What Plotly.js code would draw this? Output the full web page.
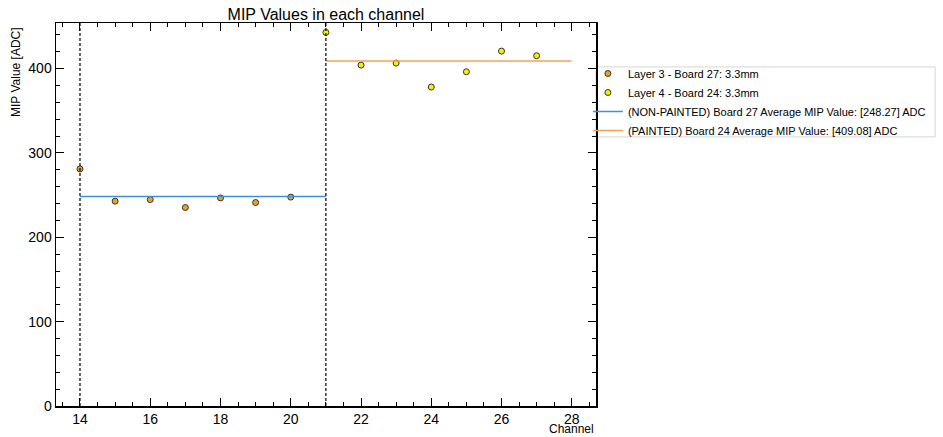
<!DOCTYPE html>
<html>
<head>
<meta charset="utf-8">
<script src="https://cdn.plot.ly/plotly-3.0.1.min.js"></script>
<style>html,body{margin:0;padding:0;background:#fff}#chart{width:943px;height:437px}</style>
</head>
<body>
<div id="chart"></div>
<script>
// Data
const channelsB27 = [14, 15, 16, 17, 18, 19, 20];
const mipB27 = [281.0, 242.8, 244.7, 235.3, 246.7, 241.2, 247.6];
const channelsB24 = [21, 22, 23, 24, 25, 26, 27];
const mipB24 = [442.8, 404.1, 406.5, 378.1, 396.2, 420.7, 415.2];
const avgB27 = 248.27;
const avgB24 = 409.08;
const avgSpanB27 = [14, 21];
const avgSpanB24 = [21, 28];
const dividers = [14, 21];
const seriesNames = [
  "Layer 3 - Board 27: 3.3mm",
  "Layer 4 - Board 24: 3.3mm",
  "(NON-PAINTED) Board 27 Average MIP Value: [248.27] ADC",
  "(PAINTED) Board 24 Average MIP Value: [409.08] ADC"
];

const FONT = "Liberation Sans, Arial, Helvetica, sans-serif";

const traces = [
  {
    x: channelsB27, y: mipB27, type: "scatter", mode: "markers", name: seriesNames[0],
    marker: {color: "#eba226", size: 6, line: {color: "#333", width: 1}}
  },
  {
    x: channelsB24, y: mipB24, type: "scatter", mode: "markers", name: seriesNames[1],
    marker: {color: "#f2f200", size: 6, line: {color: "#333", width: 1}}
  },
  {
    x: avgSpanB27, y: avgSpanB27.map(() => avgB27), type: "scatter", mode: "lines", name: seriesNames[2],
    line: {color: "#3f90da", width: 1.5}
  },
  {
    x: avgSpanB24, y: avgSpanB24.map(() => avgB24), type: "scatter", mode: "lines", name: seriesNames[3],
    line: {color: "#f7a055", width: 1.5}
  }
];

const shapes = dividers.map(d => ({
  type: "line", xref: "x", yref: "paper", x0: d, x1: d, y0: 0, y1: 1,
  line: {color: "#000", width: 1.2, dash: "3px,2px"}
}));
// legend frame
shapes.push({
  type: "rect", xref: "paper", yref: "paper", x0: 1.0, x1: 1.628, y0: 0.7027, y1: 0.8853,
  line: {color: "#d6d6d6", width: 1}, fillcolor: "#fff", layer: "below"
});

const axisCommon = {
  showgrid: false, zeroline: false, showline: true, linecolor: "#000", linewidth: 1.5,
  mirror: "allticks", ticks: "inside", ticklen: 8, tickwidth: 1, tickcolor: "#000",
  tickfont: {family: FONT, size: 14, color: "#000"}
};

const layout = {
  width: 943, height: 437,
  margin: {l: 56, r: 347, t: 23, b: 31, autoexpand: false},
  paper_bgcolor: "#fff", plot_bgcolor: "#fff",
  font: {family: FONT, color: "#000"},
  title: {text: "MIP Values in each channel", font: {family: FONT, size: 16, color: "#000"},
          x: 0.3457, xanchor: "center", xref: "container", y: 1, yref: "paper", yanchor: "bottom", pad: {b: 3}},
  xaxis: Object.assign({}, axisCommon, {
    range: [13.317, 28.69], dtick: 2, tick0: 14,
    minor: {dtick: 0.5, ticks: "inside", ticklen: 4, tickcolor: "#000", tickwidth: 1, showgrid: false}
  }),
  yaxis: Object.assign({}, axisCommon, {
    range: [0, 454], dtick: 100, tick0: 0,
    minor: {dtick: 20, ticks: "inside", ticklen: 4, tickcolor: "#000", tickwidth: 1, showgrid: false}
  }),
  shapes: shapes,
  showlegend: true,
  legend: {
    x: 0.985, xanchor: "left", y: 0.906, yanchor: "top",
    bgcolor: "rgba(0,0,0,0)", borderwidth: 0,
    font: {family: FONT, size: 11, color: "#000"},
    tracegroupgap: 0, itemwidth: 30
  },
  annotations: [
    {text: "Channel", xref: "paper", yref: "paper", x: 1, y: 0, xanchor: "right", yanchor: "bottom",
     yshift: -32, showarrow: false, font: {family: FONT, size: 12, color: "#000"}},
    {text: "MIP Value [ADC]", xref: "paper", yref: "paper", x: 0, y: 1, xanchor: "right", yanchor: "top",
     xshift: -31, yshift: -2, textangle: -90, showarrow: false, font: {family: FONT, size: 12, color: "#000"}}
  ]
};

Plotly.newPlot("chart", traces, layout, {displayModeBar: false, staticPlot: true});
</script>
</body>
</html>
